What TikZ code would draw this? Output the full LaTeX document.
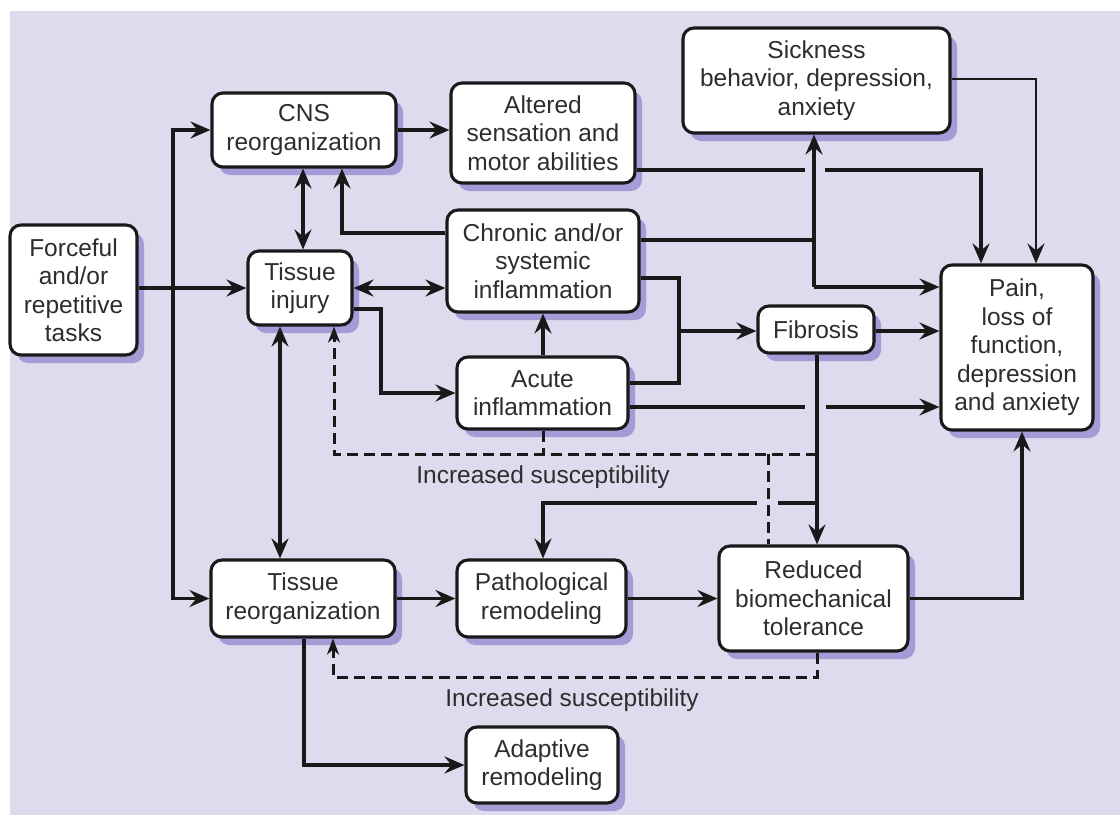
\documentclass[tikz,border=0pt]{standalone}
\usepackage{fontspec}
\setmainfont{Liberation Sans}
\usetikzlibrary{arrows.meta,shadows}
\definecolor{panel}{RGB}{222,219,238}
\definecolor{shad}{RGB}{165,155,214}
\definecolor{ink}{RGB}{25,25,25}
\definecolor{txt}{RGB}{45,45,45}
\begin{document}
\begin{tikzpicture}[x=1pt,y=-1pt,
  box/.style={draw=ink, line width=3.1pt, rounded corners=11pt, fill=white,
    align=center, inner sep=0pt, text=txt,
    font=\fontsize{24.5}{28.5}\selectfont,
    drop shadow={shadow xshift=7pt, shadow yshift=-8pt, fill=shad, opacity=1}},
  lbl/.style={inner sep=0pt, text=txt, font=\fontsize{24.5}{28.5}\selectfont},
  ln/.style={draw=ink, line width=3.3pt},
  arr/.style={ln, -{Stealth[length=20pt,width=17pt,inset=7pt]}},
  arrtwo/.style={ln, {Stealth[length=20pt,width=17pt,inset=7pt]}-{Stealth[length=20pt,width=17pt,inset=7pt]}},
  arrthin/.style={draw=ink, line width=2.2pt, -{Stealth[length=20pt,width=17pt,inset=7pt]}},
  dsh/.style={draw=ink, line width=3pt, dash pattern=on 11pt off 6pt},
  dsharr/.style={dsh, -{Stealth[length=16pt,width=12pt,inset=5pt]}}
]
\useasboundingbox (0,0) rectangle (1120,815);
\fill[white] (0,0) rectangle (1120,815);
\fill[panel] (10,11) rectangle (1120,815);

% nodes
\node[box, minimum width=127pt, minimum height=130pt] (forceful) at (73.5,290) {Forceful\\and/or\\repetitive\\tasks};
\node[box, minimum width=184pt, minimum height=74pt] (cns) at (304,130) {CNS\\reorganization};
\node[box, minimum width=184pt, minimum height=100pt] (altered) at (543,133) {Altered\\sensation and\\motor abilities};
\node[box, minimum width=267pt, minimum height=105pt] (sick) at (816.5,80.5) {Sickness\\behavior, depression,\\anxiety};
\node[box, minimum width=104pt, minimum height=74pt] (injury) at (300,288) {Tissue\\injury};
\node[box, minimum width=192pt, minimum height=102pt] (chronic) at (543,261) {Chronic and/or\\systemic\\inflammation};
\node[box, minimum width=171pt, minimum height=72pt] (acute) at (542.5,393) {Acute\\inflammation};
\node[box, minimum width=116pt, minimum height=47pt] (fibrosis) at (816,329.5) {Fibrosis};
\node[box, minimum width=152pt, minimum height=165pt] (pain) at (1017,347.5) {Pain,\\loss of\\function,\\depression\\and anxiety};
\node[box, minimum width=184pt, minimum height=77pt] (reorg) at (303,598.5) {Tissue\\reorganization};
\node[box, minimum width=169pt, minimum height=77pt] (patho) at (541.5,598.5) {Pathological\\remodeling};
\node[box, minimum width=189pt, minimum height=105pt] (reduced) at (813.5,598.5) {Reduced\\biomechanical\\tolerance};
\node[box, minimum width=152pt, minimum height=76pt] (adaptive) at (542,765) {Adaptive\\remodeling};

\node[lbl] (inc1) at (543,477) {Increased susceptibility};
\node[lbl] (inc2) at (572,700) {Increased susceptibility};

% junction coordinates
\coordinate (jF) at (173,288);
\coordinate (jS) at (814,287);
\coordinate (jA) at (679,331);
\coordinate (jR) at (817,503);
\coordinate (jD) at (817,454);

% connectors
\draw[arr] (forceful.east |- injury.west) -- (injury.west);
\draw[arr] (jF) |- (cns.west);
\draw[arr] (jF) |- (reorg.west);
\draw[arr] (cns.east) -- (altered.west |- cns.east);
\draw[arrtwo] (cns.south -| 303,0) -- (injury.north -| 303,0);
\draw[arr] (chronic.west |- 0,233) -| (cns.south -| 342,0);
\draw[arrtwo] (injury.east) -- (chronic.west |- injury.east);
\draw[arr] (injury.east |- 0,309) -| (381,393) -- (acute.west);
\draw[arr] (acute.north -| 543,0) -- (chronic.south -| 543,0);
\draw[ln] (chronic.east |- 0,240) -- (814,240);
\draw[arr] (jS) -- (sick.south -| jS);
\draw[arr] (jS) -- (pain.west |- jS);
\draw[ln] (altered.east |- 0,170) -- (805,170);
\draw[arr] (825,170) -| (pain.north -| 981,0);
\draw[arrthin] (sick.east |- 0,79) -| (pain.north -| 1036,0);
\draw[ln] (chronic.east |- 0,278) -| (679,383) -- (acute.east |- 0,383);
\draw[arr] (jA) -- (fibrosis.west |- jA);
\draw[arr] (fibrosis.east |- jA) -- (pain.west |- jA);
\draw[ln] (acute.east |- 0,407) -- (805,407);
\draw[arr] (826,407) -- (pain.west |- 0,407);
\draw[arr] (fibrosis.south -| jR) -- (reduced.north -| jR);
\draw[ln] (jR) -- (778,503);
\draw[arr] (757,503) -| (patho.north -| 543,0);
\draw[dsh] (acute.south -| 543,0) -- (543,454);
\draw[dsharr] (jD) -| (injury.south -| 334,0);
\draw[dsh] (768,454) -- (reduced.north -| 768,0);
\draw[arrtwo] (injury.south -| 280,0) -- (reorg.north -| 280,0);
\draw[arr] (reorg.east) -- (patho.west);
\draw[arr] (patho.east) -- (reduced.west);
\draw[arr] (reduced.east) -| (pain.south -| 1022,0);
\draw[dsharr] (reduced.south -| 817,0) |- (333,677) -- (reorg.south -| 333,0);
\draw[arr] (reorg.south -| 304,0) |- (adaptive.west);
\end{tikzpicture}
\end{document}
